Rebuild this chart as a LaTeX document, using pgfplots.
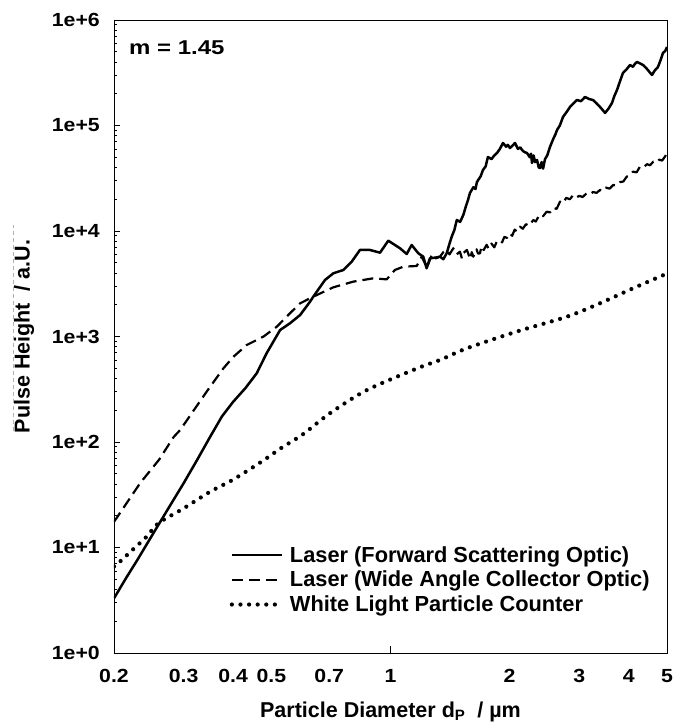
\documentclass[border=0pt]{standalone}
\usepackage{fontspec}
\setmainfont{Liberation Sans}
\newfontfamily\tickfont{Liberation Sans}[FakeStretch=1.12]
\newfontfamily\mfont{Liberation Sans}[FakeStretch=1.2]
\usepackage{pgfplots}
\usepackage{pgfplotstable}
\pgfplotsset{compat=1.18}

% Laser, forward scattering optic
\pgfplotstableread{
d P
0.200 3.3
0.215 5.2
0.230 7.8
0.245 11.6
0.258 16.0
0.280 26.6
0.300 40.7
0.324 67
0.350 112
0.375 175
0.400 240
0.430 325
0.459 448
0.486 692
0.526 1152
0.557 1334
0.591 1599
0.626 2138
0.638 2385
0.683 3432
0.717 3972
0.760 4270
0.798 5117
0.837 6607
0.887 6607
0.941 6230
0.987 8094
1.057 6855
1.099 6053
1.131 7368
1.176 6146
1.210 5710
1.234 4430
1.258 5510
1.300 5600
1.334 5710
1.360 5400
1.387 6146
1.410 7600
1.428 8831
1.450 10200
1.471 12710
1.500 12200
1.528 14190
1.550 17000
1.570 19670
1.588 22920
1.620 26000
1.640 25000
1.654 29140
1.690 33000
1.713 37870
1.740 41000
1.763 50280
1.800 48000
1.830 52000
1.859 54870
1.890 60000
1.925 68270
1.960 63000
1.980 65500
2.004 61180
2.030 64000
2.064 68270
2.100 60000
2.130 62000
2.150 58590
2.180 56000
2.213 54870
2.250 50000
2.265 54000
2.279 44110
2.300 52000
2.320 45000
2.346 47100
2.370 40000
2.387 39560
2.410 45000
2.430 39000
2.458 48000
2.490 52000
2.530 62550
2.580 75000
2.610 82000
2.636 90630
2.680 100000
2.729 120400
2.790 135000
2.842 149800
2.900 162000
2.961 174400
3.030 170000
3.102 186300
3.180 178000
3.250 174400
3.320 162000
3.386 149800
3.440 140000
3.486 131400
3.560 145000
3.630 163400
3.680 190000
3.738 217000
3.800 260000
3.870 314600
3.950 340000
4.032 374500
4.100 360000
4.150 385000
4.198 399900
4.260 390000
4.348 374500
4.400 360000
4.460 340000
4.520 320000
4.582 301100
4.650 330000
4.744 358500
4.820 420000
4.884 486800
4.950 510000
5.000 554800
}\forwardtab

% Laser, wide angle collector optic
\pgfplotstableread{
d P
0.200 17.5
0.233 40.9
0.260 68
0.283 111.5
0.294 130
0.343 300
0.378 499
0.401 644
0.433 830
0.477 996
0.516 1239
0.557 1660
0.591 2064
0.614 2218
0.638 2385
0.717 2926
0.805 3310
0.905 3562
0.978 3480
1.026 4270
1.077 4587
1.165 4660
1.199 5710
1.222 4943
1.234 4430
1.271 5923
1.300 5500
1.334 5710
1.360 6300
1.387 6607
1.410 6000
1.441 6855
1.470 6000
1.498 6370
1.515 5500
1.530 6200
1.560 6607
1.575 6000
1.590 5400
1.605 6300
1.619 5710
1.650 6700
1.665 6100
1.683 6146
1.700 7200
1.720 6600
1.750 7400
1.770 6800
1.800 7600
1.830 7000
1.855 7900
1.891 8222
1.915 7800
1.940 8800
1.970 8600
2.004 9508
2.030 9000
2.060 10300
2.090 9900
2.125 10990
2.160 10500
2.200 11600
2.240 11200
2.296 12710
2.330 12300
2.380 14300
2.430 13800
2.482 15240
2.530 15000
2.580 16600
2.630 16200
2.682 18960
2.730 18300
2.780 20600
2.840 20000
2.898 21930
2.950 20800
3.000 21500
3.060 21000
3.132 22770
3.190 22200
3.250 23400
3.320 23000
3.386 24480
3.440 24000
3.500 25800
3.580 25200
3.658 27300
3.730 27000
3.800 29000
3.880 29500
3.954 32720
4.030 33500
4.100 36500
4.190 36000
4.272 40740
4.360 40000
4.450 43000
4.530 42000
4.616 45380
4.700 44500
4.780 47500
4.860 46500
4.940 50620
5.000 54500
}\widetab

% White light particle counter
\pgfplotstableread{
d P
0.200 6.6
0.210 7.7
0.220 9.1
0.242 12.7
0.259 17.0
0.300 23.5
0.350 33.8
0.400 44
0.472 65.1
0.530 88
0.600 118
0.704 188
0.872 311
1.170 500
1.334 599
1.560 773
2.080 1110
2.790 1540
3.380 2060
4.100 2860
5.000 3950
}\whitetab

\begin{document}
\begin{tikzpicture}
\begin{axis}[
  at={(0,0)}, anchor=south west,
  scale only axis, width=553bp, height=633bp,
  xmode=log, ymode=log,
  xmin=0.2, xmax=5, ymin=1, ymax=1e6,
  axis line style={line width=0.9bp},
  xtick={0.2,0.3,0.4,0.5,0.7,1,2,3,4,5},
  xticklabels={0.2,0.3,0.4,0.5,0.7,1,2,3,4,5},
  ytick={1,10,100,1000,10000,100000,1000000},
  yticklabels={1e+0,1e+1,1e+2,1e+3,1e+4,1e+5,1e+6},
  minor ytick={2,3,4,5,6,7,8,9,20,30,40,50,60,70,80,90,200,300,400,500,600,700,800,900,2000,3000,4000,5000,6000,7000,8000,9000,2e4,3e4,4e4,5e4,6e4,7e4,8e4,9e4,2e5,3e5,4e5,5e5,6e5,7e5,8e5,9e5},
  ytick pos=left, xtick pos=bottom,
  tick align=inside,
  major tick length=6bp, minor tick length=3.5bp,
  tick style={black, line width=0.8bp},
  major x tick style={draw=none},
  xticklabel style={font=\tickfont\bfseries\fontsize{19bp}{20bp}\selectfont, anchor=base, inner sep=0pt, yshift=-29bp},
  yticklabel style={font=\tickfont\bfseries\fontsize{19bp}{20bp}\selectfont, anchor=east, inner sep=0pt, xshift=-14bp},
  xlabel={Particle Diameter d\textsubscript{P}\ \ / µm},
  xlabel style={font=\bfseries\fontsize{21.5bp}{24bp}\selectfont, at={(axis description cs:0.5,-0.1011)}, anchor=base},
  ylabel={Pulse Height\ \ / a.U.},
  ylabel style={font=\bfseries\fontsize{21.5bp}{24bp}\selectfont, at={(axis description cs:-0.1627,0.5)}, anchor=center},
  legend cell align=left,
  legend style={at={(axis description cs:0.209,0.172)}, anchor=north west, draw=none, fill=none,
    font=\bfseries\fontsize{21.8bp}{24bp}\selectfont, row sep=3.5bp, inner sep=0pt,
    nodes={inner xsep=6bp}},
  legend image code/.code={\draw[#1] (0bp,0bp) -- (50bp,0bp);},
]
\addplot[black, line width=2.5bp, line join=round] table[x=d, y=P] {\forwardtab};
\addlegendentry{Laser (Forward Scattering Optic)}
\addplot[black, line width=2.2bp, line join=round, dash pattern=on 11bp off 6bp] table[x=d, y=P] {\widetab};
\addlegendentry{Laser (Wide Angle Collector Optic)}
\addplot[black, line width=4.2bp, line cap=round, dash pattern=on 0bp off 8.6bp, smooth] table[x=d, y=P] {\whitetab};
\addlegendentry{White Light Particle Counter}
\node[anchor=base west, inner sep=0pt, font=\mfont\bfseries\fontsize{20bp}{22bp}\selectfont] at (axis description cs:0.027,0.945) {m = 1.45};
\draw[black, line width=0.8bp] (axis cs:1,1) -- ([yshift=7bp]axis cs:1,1);
\end{axis}
% faint dashed rule running along the y label
\draw[gray!60, line width=0.7bp, dash pattern=on 4bp off 3bp] (-101bp,222bp) -- (-101bp,428bp);
\pgfresetboundingbox
\path (-114bp,-70bp) rectangle (559bp,653bp);
\end{tikzpicture}
\end{document}
